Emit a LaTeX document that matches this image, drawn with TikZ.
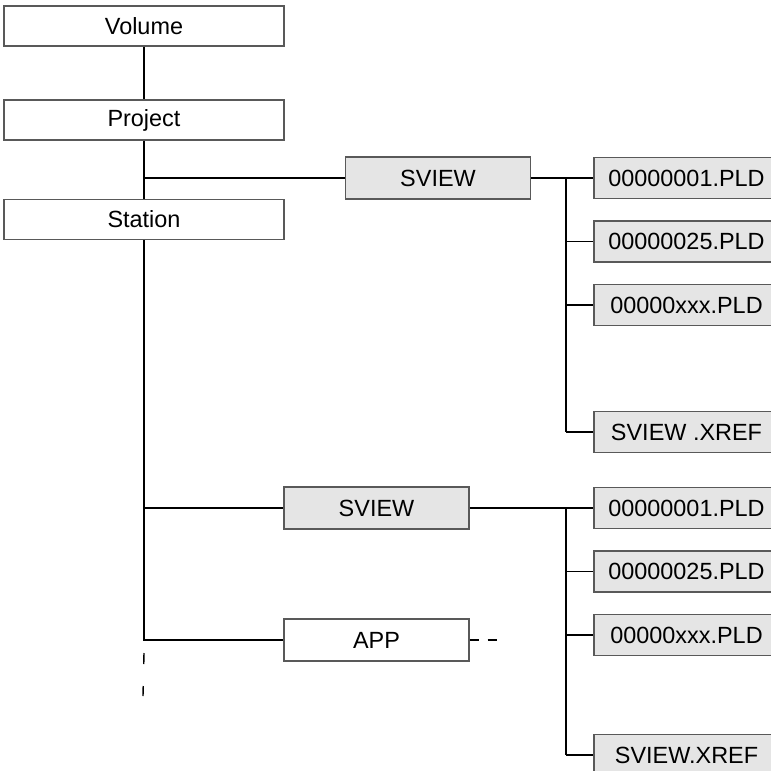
\documentclass[tikz,border=0pt]{standalone}
\usepackage{fontspec}
\setmainfont{Liberation Sans}
\usepackage{tikz}
\usepackage{xcolor}

\begin{document}
\begin{tikzpicture}[x=0.03cm, y=-0.03cm, line width=1.2pt,
    every node/.style = {shape=rectangle, draw=black!65, align=center,
      inner sep=0pt, font=\fontsize{20}{24}\selectfont},
    level/.style = {minimum width=8.4cm, minimum height=1.2cm, fill=white},
    dirbox/.style = {minimum width=5.55cm, minimum height=1.26cm, fill=black!10},
    filebox/.style = {minimum width=5.55cm, minimum height=1.23cm, fill=black!10}]
    \useasboundingbox (0,0) rectangle (771,771);
    % top levels
    \node[level] (vol)  at (144,26)  {Volume};
    \node[level] (proj) at (144,120) {Project};
    \node[level] (stat) at (144,219.5) {Station};
    % directories
    \node[dirbox] (sv1) at (438,178) {SVIEW};
    \node[dirbox] (sv2) at (376.5,508) {SVIEW};
    \node[level, minimum width=5.55cm, minimum height=1.26cm] (app) at (376.5,640) {APP};
    % files
    \node[filebox] (f1a) at (686.5,178)   {00000001.PLD};
    \node[filebox] (f1b) at (686.5,241.5) {00000025.PLD};
    \node[filebox] (f1c) at (686.5,305)   {00000xxx.PLD};
    \node[filebox] (x1)  at (686.5,432)   {SVIEW .XREF};
    \node[filebox] (f2a) at (686.5,508)   {00000001.PLD};
    \node[filebox] (f2b) at (686.5,571.5) {00000025.PLD};
    \node[filebox] (f2c) at (686.5,635)   {00000xxx.PLD};
    \node[filebox] (x2)  at (686.5,755)   {SVIEW.XREF};
    \coordinate (bus) at (566,0);
    \coordinate (more) at (143,696);
    \coordinate (appmore) at (499,640);

    \draw (vol) -- (proj);
    \draw (proj) -- (stat);
    \draw (proj.south |- sv1.west) -- (sv1.west);
    \draw (stat.south) -- (stat.south |- app.west) -- (app.west);
    \draw (stat.south |- sv2.west) -- (sv2.west);
    \draw[dash pattern=on 0.33cm off 0.66cm] ([yshift=-0.39cm]stat.south |- app.west) -- (more);
    \draw[dash pattern=on 0.27cm off 0.27cm] (app.east) -- (appmore);
    % first SVIEW branch
    \draw (sv1.east) -- (bus |- sv1.east) -- (bus |- x1.west);
    \foreach \f in {f1a,f1b,f1c,x1}
      \draw (bus |- \f.west) -- (\f.west);
    % second SVIEW branch
    \draw (sv2.east) -- (bus |- sv2.east) -- (bus |- x2.west);
    \foreach \f in {f2a,f2b,f2c,x2}
      \draw (bus |- \f.west) -- (\f.west);
  \end{tikzpicture}
\end{document}
